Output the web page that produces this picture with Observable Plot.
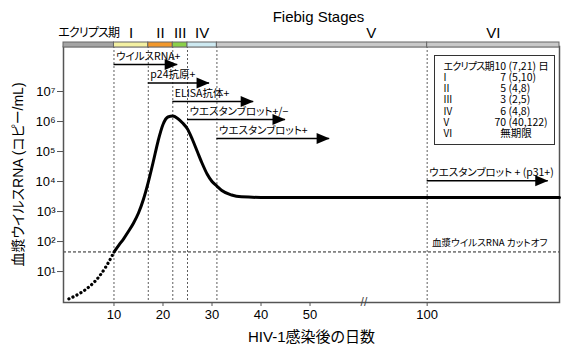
<!DOCTYPE html>
<html><head><meta charset="utf-8">
<script src="https://cdn.jsdelivr.net/npm/d3@7"></script>
<script src="https://cdn.jsdelivr.net/npm/@observablehq/plot@0.6"></script>
<style>body{margin:0;background:#fff} svg text{font-feature-settings:"palt"}</style>
</head><body><div id="chart"></div>
<script>
// ---- data ----
const stageNames = ["エクリプス期","I","II","III","IV","V","VI"];
const stageStart = [-0.3,10,17,22,25,31,100];
const stageEnd   = [10,17,22,25,31,100,127];

const tableLabels = ["エクリプス期","I","II","III","IV","V","VI"];
const tableDays   = [10,7,5,3,6,70,null];
const tableRanges = ["7,21","5,10","4,8","2,5","4,8","40,122",null];
const dayUnit = "日";
const noLimit = "無期限";

const markerLabels = ["ウイルスRNA+","p24抗原+","ELISA抗体+","ウエスタンブロット+/−","ウエスタンブロット+","ウエスタンブロット + (p31+)"];
const markerStart = [10,17,22,25,31,100];
const markerEnd   = [23,29.5,38.5,45,54,124.7];
const markerLog   = [7.9,7.28,6.67,6.07,5.43,4.03];

const preDays = [0.8,3,5,7,8.5,10];
const preLog  = [0.09,0.27,0.5,0.84,1.2,1.65];
const vlDays = [10,11,12,13,14,15,16,17,18,19,20,21,22,23,24,25,26,27,28,29,30,31,32,34,36,40,127];
const vlLog  = [1.65,1.88,2.1,2.35,2.62,2.95,3.4,3.98,4.65,5.35,5.9,6.15,6.18,6.1,5.95,5.75,5.4,5.0,4.6,4.25,4.0,3.85,3.7,3.55,3.49,3.47,3.47];

const cutoff = 45;
const yTicks = [1e1,1e2,1e3,1e4,1e5,1e6,1e7];
const xTicks = [10,20,30,40,50,100];
const axisBreak = [61,100];   // days hidden behind the "//" break

const title = "Fiebig Stages";
const xLabel = "HIV-1感染後の日数";
const yLabel = "血漿ウイルスRNA (コピー/mL)";
const cutoffLabel = "血漿ウイルスRNA カットオフ";

// ---- build ----
const stages = stageNames.map((n,i)=>({name:n, x1:stageStart[i], x2:stageEnd[i], mid:(stageStart[i]+stageEnd[i])/2}));
const markers = markerLabels.map((l,i)=>({label:l, x1:markerStart[i], x2:markerEnd[i], y:10**markerLog[i]}));
const pre = preDays.map((d,i)=>({d, v:10**preLog[i]}));
const vl = vlDays.map((d,i)=>({d, v:10**vlLog[i]}));
const FS = "\u2007"; // figure space for digit alignment
const tableValueTexts = tableDays.map((d,i)=> d == null ? FS + noLimit
  : String(d).padStart(2, FS) + " (" + tableRanges[i] + ")" + (i === 0 ? " " + dayUnit : ""));
const stageColors = ["#a4a4a4","#f3f0a2","#f2982c","#8bd04a","#cde9f1","#c9c9c9","#c9c9c9"];
const sup = "⁰¹²³⁴⁵⁶⁷⁸⁹";
const arrowHead = {draw(ctx){ctx.moveTo(0,0);ctx.lineTo(-13,-5.5);ctx.lineTo(-13,5.5);ctx.closePath();}};
// broken axis: the span between the two break days is squeezed
const gap = 12.9;
const [b0,b1] = axisBreak;
const brk = d => d <= b0 ? d : d >= b1 ? b0 + gap + (d - b1) : b0 + (d - b0) * gap / (b1 - b0);

const W=570,H=354, mL=63, mR=11, mT=46, mB=52;
const jp = '"Noto Sans CJK JP",sans-serif';
const rowH = 11.2, row0 = 20;
const tableMarks = [
  ...tableLabels.map((t,i) => Plot.text([t], {text: d=>d, frameAnchor: "top-left", dx: 380, dy: row0 + rowH*i, textAnchor: "start", lineAnchor: "middle", fontSize: 10, fontFamily: jp})),
  ...tableValueTexts.map((t,i) => Plot.text([t], {text: d=>d, frameAnchor: "top-left", dx: 431, dy: row0 + rowH*i, textAnchor: "start", lineAnchor: "middle", fontSize: 10.5, fontFamily: jp}))
];
const chart = Plot.plot({
  width: W, height: H,
  marginLeft: mL, marginRight: mR, marginTop: mT, marginBottom: mB,
  style: {fontFamily: '"Liberation Sans","Noto Sans CJK JP",sans-serif', fontSize: "13px", background: "#fff", color: "#000", overflow: "visible"},
  x: {transform: brk, range: [mL, W-mR]},
  y: {type: "log", domain: [0.93, 10**8.5], range: [H-mB, mT]},
  color: {domain: stageNames, range: stageColors},
  marks: [
    Plot.ruleX(stageStart.slice(1), {stroke: "#333", strokeWidth: 0.8, strokeDasharray: "2,2"}),
    Plot.ruleY([cutoff], {stroke: "#222", strokeWidth: 1, strokeDasharray: "3,2"}),
    Plot.text([cutoffLabel], {text: d=>d, frameAnchor: "right", y: ()=>cutoff, dx: -12, dy: -9, textAnchor: "end", lineAnchor: "middle", fontSize: 9.6, fontFamily: jp}),
    Plot.frame({stroke: "#555", strokeWidth: 1.5}),
    Plot.axisY({ticks: yTicks, tickFormat: d => "10" + sup[Math.round(Math.log10(d))], tickSize: 6, tickPadding: 2, fontSize: 13, stroke: "#555", label: null}),
    // axis ticks live in the (transformed) scale space
    Plot.axisX({ticks: xTicks.map(brk), tickFormat: (d,i) => String(xTicks[i]), tickSize: 4, tickPadding: 3, fontSize: 13, stroke: "#555", label: null}),
    Plot.text(["//"], {text: d=>d, x: ()=>b0, frameAnchor: "bottom", lineAnchor: "middle", fontSize: 12, fill: "#444"}),
    // curve
    Plot.line(pre, {x: "d", y: "v", stroke: "#000", strokeWidth: 3.2, strokeDasharray: "0.1,4.4", strokeLinecap: "round", curve: "monotone-x"}),
    Plot.line(vl, {x: "d", y: "v", stroke: "#000", strokeWidth: 3, curve: "monotone-x"}),
    // stage bar
    Plot.rect(stages, {x1: "x1", x2: "x2", fill: "name", stroke: "#666", strokeWidth: 1, insetTop: -4, insetBottom: (H-mB-mT)-1}),
    Plot.text(stages, {x: "mid", text: "name", frameAnchor: "top", lineAnchor: "middle", dy: -13, fontSize: d => d.name.length > 3 ? 12 : 15}),
    Plot.text([title], {text: d=>d, frameAnchor: "top", lineAnchor: "middle", dy: -29, dx: 7, fontSize: 15}),
    // markers
    Plot.ruleY(markers, {y: "y", x1: "x1", x2: "x2", stroke: "#000", strokeWidth: 1.5}),
    Plot.dot(markers, {x: "x2", y: "y", symbol: arrowHead, fill: "#000", stroke: null}),
    Plot.text(markers, {x: "x1", y: "y", text: "label", textAnchor: "start", dx: 2, dy: -8, fontSize: 10.5, fontFamily: jp}),
    // table
    Plot.frame({stroke: "#333", strokeWidth: 1, insetLeft: 371, insetRight: 5, insetTop: 9, insetBottom: 158}),
    ...tableMarks,
    // axis titles
    Plot.text([xLabel], {text: d=>d, frameAnchor: "bottom", lineAnchor: "middle", textAnchor: "middle", dy: 35, fontSize: 15}),
    Plot.text([yLabel], {text: d=>d, frameAnchor: "left", textAnchor: "middle", lineAnchor: "middle", dx: -45, rotate: -90, fontSize: 14})
  ]
});
// the reference's Japanese face is narrow; tighten the eclipse-period label
d3.select(chart).selectAll("text").filter(function(){ return this.textContent === tableLabels[0]; })
  .style("letter-spacing", "-0.8px");
document.getElementById("chart").appendChild(chart);
</script></body></html>
